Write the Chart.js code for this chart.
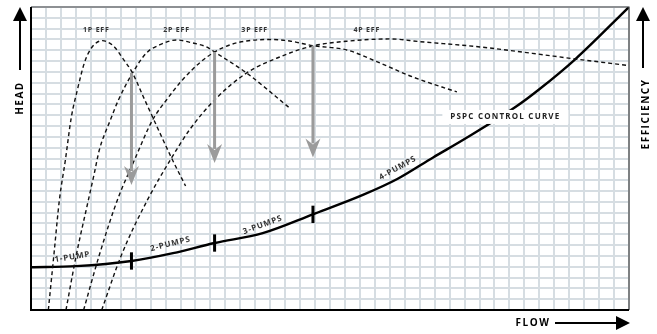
<!DOCTYPE html>
<html>
<head>
<meta charset="utf-8">
<script src="https://cdn.jsdelivr.net/npm/chart.js"></script>
<style>
html,body{margin:0;padding:0;background:#fff;}
#wrap{width:657px;height:334px;}
</style>
</head>
<body>
<div id="wrap"><canvas id="pumpChart" width="657" height="334"></canvas></div>
<script>
// values, in grid squares (40 across, 28 up)
const controlFlow = [0, 3, 6.72, 9.5, 12.28, 15.5, 18.86, 22.2, 24.5, 26.9, 29.0, 32.5, 34.0, 36.4, 40];
const controlHead = [3.95, 4.05, 4.53, 5.25, 6.19, 7.1, 8.84, 10.63, 12.1, 14.1, 15.8, 18.85, 20.4, 23.17, 28];

const eff1Flow = [1.16, 1.53, 1.90, 2.30, 2.70, 3.10, 3.57, 4.04, 4.78, 5.11, 5.58, 6.12, 6.79, 7.46, 8.13, 9.40, 10.34];
const eff1Val  = [0, 5.08, 10.17, 13.86, 17.84, 20.33, 22.83, 24.21, 24.89, 24.77, 24.31, 23.29, 21.90, 19.87, 17.84, 14.05, 11.46];

const eff2Flow = [2.34, 3.03, 3.84, 4.24, 4.57, 5.31, 5.85, 6.79, 7.72, 8.59, 9.73, 10.80, 11.74, 12.28, 14.42, 17.30];
const eff2Val  = [0, 5.08, 10.17, 12.66, 14.79, 17.56, 19.41, 21.90, 23.75, 24.49, 24.95, 24.68, 24.31, 23.84, 21.90, 18.67];

const eff3Flow = [3.52, 4.57, 5.78, 6.92, 8.13, 9.06, 10.13, 11.27, 12.28, 13.28, 14.42, 15.96, 17.30, 18.84, 21.12, 23.33, 25.54, 28.49];
const eff3Val  = [0, 5.08, 10.17, 13.86, 17.56, 19.41, 21.26, 22.83, 23.84, 24.49, 24.86, 25.0, 24.86, 24.43, 24.03, 22.83, 21.53, 20.15];

const eff4Flow = [4.73, 6.05, 7.79, 9.40, 10.60, 12.28, 14.42, 16.63, 18.84, 21.32, 24.0, 26.0, 30.03, 36.41, 40];
const eff4Val  = [0, 5.08, 10.17, 14.05, 16.64, 19.41, 21.90, 23.38, 24.40, 24.86, 25.05, 24.80, 24.31, 23.2, 22.58];

// pump staging points on the control curve
const stageFlow = [6.72, 12.28, 18.86];
const stageHead = [4.53, 6.19, 8.84];
// drop arrows from the efficiency crossings
const dropFrom = [21.9, 23.84, 24.43];
const dropTo   = [11.55, 13.59, 14.1];

const effNames  = ['1P EFF', '2P EFF', '3P EFF', '4P EFF'];
const pumpNames = ['1-PUMP', '2-PUMPS', '3-PUMPS', '4-PUMPS'];

function pts(xs, ys) {
  return xs.map((x, i) => ({x: x, y: ys[i]}));
}

const dashed = {borderColor: '#111', borderWidth: 1.4, borderDash: [4, 3], pointRadius: 0, cubicInterpolationMode: 'monotone', fill: false};

const datasets = [
  Object.assign({data: pts(eff1Flow, eff1Val)}, dashed),
  Object.assign({data: pts(eff2Flow, eff2Val)}, dashed),
  Object.assign({data: pts(eff3Flow, eff3Val)}, dashed),
  Object.assign({data: pts(eff4Flow, eff4Val)}, dashed),
  {data: pts(controlFlow, controlHead), borderColor: '#000', borderWidth: 2.4, pointRadius: 0, cubicInterpolationMode: 'monotone', fill: false}
];
stageFlow.forEach((f, i) => {
  datasets.push({data: [{x: f, y: stageHead[i] - 0.8}, {x: f, y: stageHead[i] + 0.8}], borderColor: '#000', borderWidth: 3, pointRadius: 0});
});

function spaced(ctx, sp) {
  if ('letterSpacing' in ctx) ctx.letterSpacing = sp;
}

const sheetArt = {
  id: 'sheetArt',
  afterDatasetsDraw(chart) {
    const ctx = chart.ctx, xs = chart.scales.x, ys = chart.scales.y;
    const a = chart.chartArea;
    ctx.save();

    // frame
    ctx.strokeStyle = '#444';
    ctx.lineWidth = 1.2;
    ctx.beginPath();
    ctx.moveTo(a.left, a.top); ctx.lineTo(a.right, a.top); ctx.lineTo(a.right, a.bottom);
    ctx.stroke();
    ctx.strokeStyle = '#000';
    ctx.lineWidth = 2;
    ctx.beginPath();
    ctx.moveTo(a.left, a.top); ctx.lineTo(a.left, a.bottom); ctx.lineTo(a.right, a.bottom);
    ctx.stroke();

    // grey drop arrows
    ctx.strokeStyle = '#9b9b9b';
    ctx.fillStyle = '#9b9b9b';
    ctx.lineWidth = 3;
    stageFlow.forEach((f, i) => {
      const x = xs.getPixelForValue(f);
      const y0 = ys.getPixelForValue(dropFrom[i]);
      const y1 = ys.getPixelForValue(dropTo[i]);
      ctx.beginPath();
      ctx.moveTo(x, y0); ctx.lineTo(x, y1 - 14);
      ctx.stroke();
      ctx.beginPath();
      ctx.moveTo(x - 7.5, y1 - 19);
      ctx.lineTo(x, y1 - 13);
      ctx.lineTo(x + 7.5, y1 - 19);
      ctx.lineTo(x, y1);
      ctx.closePath();
      ctx.fill();
    });

    // efficiency labels
    ctx.fillStyle = '#333';
    ctx.font = 'bold 7px "Open Sans"';
    spaced(ctx, '0.8px');
    ctx.textAlign = 'center';
    ctx.textBaseline = 'middle';
    const effX = [4.37, 9.73, 14.96, 22.46];
    effNames.forEach((t, i) => ctx.fillText(t, xs.getPixelForValue(effX[i]), ys.getPixelForValue(25.88)));

    // control curve label with white knock-out
    const cx = xs.getPixelForValue(31.73), cy = ys.getPixelForValue(17.84);
    ctx.fillStyle = '#fff';
    ctx.fillRect(cx - 63, cy - 7, 126, 14);
    ctx.fillStyle = '#222';
    ctx.font = 'bold 8px "Open Sans"';
    spaced(ctx, '1.2px');
    ctx.fillText('PSPC CONTROL CURVE', cx, cy);

    // pump stage labels along curve
    const pumpX = [2.77, 9.33, 15.5, 24.53];
    const pumpY = [4.9, 6.1, 7.86, 13.12];
    const pumpRot = [-9, -14, -20, -29];
    ctx.fillStyle = '#333';
    ctx.font = 'bold 8px "Open Sans"';
    spaced(ctx, '0.9px');
    pumpNames.forEach((t, i) => {
      ctx.save();
      ctx.translate(xs.getPixelForValue(pumpX[i]), ys.getPixelForValue(pumpY[i]));
      ctx.rotate(pumpRot[i] * Math.PI / 180);
      ctx.fillText(t, 0, 0);
      ctx.restore();
    });

    // outer axis titles with arrows
    ctx.fillStyle = '#000';
    ctx.strokeStyle = '#000';
    ctx.lineWidth = 2;
    ctx.font = 'bold 10px "Open Sans"';
    spaced(ctx, '1.5px');

    ctx.save();
    ctx.translate(20, 98);
    ctx.rotate(-Math.PI / 2);
    ctx.fillText('HEAD', 0, 0);
    ctx.restore();
    ctx.beginPath(); ctx.moveTo(20, 70); ctx.lineTo(20, 20); ctx.stroke();
    ctx.beginPath(); ctx.moveTo(20, 7); ctx.lineTo(27, 21); ctx.lineTo(13, 21); ctx.closePath(); ctx.fill();

    ctx.save();
    ctx.translate(646, 114);
    ctx.rotate(-Math.PI / 2);
    ctx.fillText('EFFICIENCY', 0, 0);
    ctx.restore();
    ctx.beginPath(); ctx.moveTo(643, 68); ctx.lineTo(643, 20); ctx.stroke();
    ctx.beginPath(); ctx.moveTo(643, 7); ctx.lineTo(650, 21); ctx.lineTo(636, 21); ctx.closePath(); ctx.fill();

    ctx.fillText('FLOW', 533, 323);
    ctx.beginPath(); ctx.moveTo(555, 323); ctx.lineTo(618, 323); ctx.stroke();
    ctx.beginPath(); ctx.moveTo(630, 323); ctx.lineTo(616, 316); ctx.lineTo(616, 330); ctx.closePath(); ctx.fill();

    ctx.restore();
  }
};

new Chart(document.getElementById('pumpChart'), {
  type: 'line',
  data: {datasets: datasets},
  options: {
    responsive: false,
    animation: false,
    layout: {padding: {left: 31, right: 28, top: 7, bottom: 24}},
    plugins: {legend: {display: false}, tooltip: {enabled: false}},
    scales: {
      x: {type: 'linear', min: 0, max: 40, ticks: {display: false, stepSize: 1},
          grid: {color: '#d6dde2', lineWidth: 2, drawTicks: false}, border: {display: false}},
      y: {type: 'linear', min: 0, max: 28, ticks: {display: false, stepSize: 1},
          grid: {color: '#d6dde2', lineWidth: 2, drawTicks: false}, border: {display: false}}
    }
  },
  plugins: [sheetArt]
});
</script>
</body>
</html>
